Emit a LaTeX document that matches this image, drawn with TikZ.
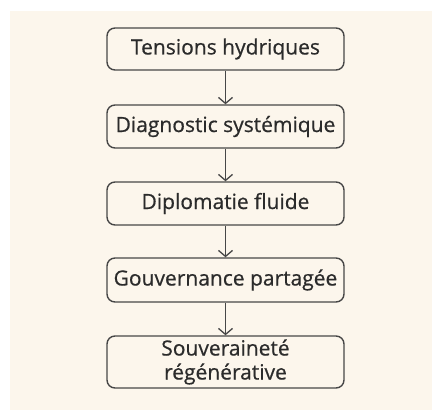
\documentclass[tikz,border=0pt]{standalone}
\usepackage{fontspec}
\setmainfont{Open Sans}
\newfontfamily\medfont{Open Sans}[FakeBold=0.6]
\usetikzlibrary{arrows.meta}
\definecolor{bgcream}{HTML}{FCF6EC}
\definecolor{strokegray}{HTML}{474747}
\definecolor{textgray}{HTML}{2B2B2B}
\begin{document}
\begin{tikzpicture}[x=1pt,y=-1pt,
  stepbox/.style={draw=strokegray, line width=1.4pt, rounded corners=8pt, fill=bgcream,
    minimum width=237pt, inner sep=0pt, align=center, text=textgray,
    font=\medfont\fontsize{21}{24}\selectfont},
  flow/.style={draw=strokegray, line width=1.3pt, -{Straight Barb[length=6pt,width=14pt,line width=1.3pt]}}]
\useasboundingbox (0,0) rectangle (432,412);
\fill[white] (0,0) rectangle (432,412);
\fill[bgcream] (10,11) rectangle (432,410);
\node[stepbox, minimum height=42pt] (a) at (225.5,49) {Tensions hydriques};
\node[stepbox, minimum height=43pt] (b) at (225.5,126.5) {Diagnostic systémique};
\node[stepbox, minimum height=43pt] (c) at (225.5,203.5) {Diplomatie fluide};
\node[stepbox, minimum height=44pt] (d) at (225.5,280) {Gouvernance partagée};
\node[stepbox, minimum height=52pt] (e) at (225.5,362) {Souveraineté\\régénérative};
\draw[flow] (a) -- (b);
\draw[flow] (b) -- (c);
\draw[flow] (c) -- (d);
\draw[flow] (d) -- (e);
\end{tikzpicture}
\end{document}
